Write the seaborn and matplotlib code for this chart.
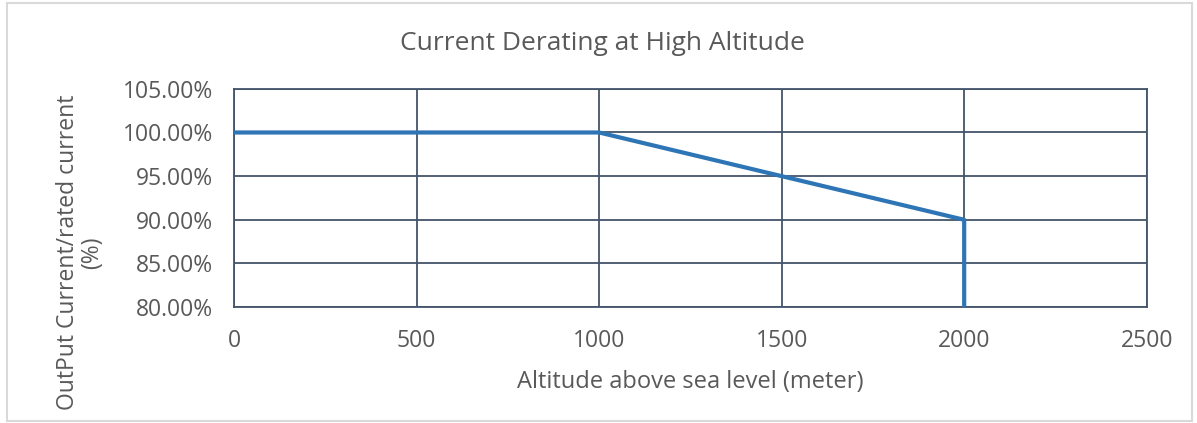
import matplotlib
matplotlib.use("Agg")
import matplotlib.pyplot as plt
import seaborn as sns
import pandas as pd
from matplotlib.ticker import FuncFormatter, MultipleLocator
from matplotlib.patches import Rectangle

# data
altitude = [0, 1000, 2000, 2000]
current_ratio = [1.00, 1.00, 0.90, 0.80]

df = pd.DataFrame({"Altitude": altitude, "Ratio": current_ratio})

sns.set_theme(style="white")
plt.rcParams['font.family'] = ['Open Sans', 'DejaVu Sans']

text_color = '#595959'
grid_color = '#44546A'

fig = plt.figure(figsize=(11.97, 4.23), dpi=100)
ax = fig.add_axes([0.1955, 0.274, 0.7625, 0.516])

sns.lineplot(data=df, x="Altitude", y="Ratio", sort=False, estimator=None,
             color='#2E75B6', linewidth=3, ax=ax, zorder=3)

ax.set_xlim(0, 2500)
ax.set_ylim(0.80, 1.05)
ax.xaxis.set_major_locator(MultipleLocator(500))
ax.yaxis.set_major_locator(MultipleLocator(0.05))
ax.yaxis.set_major_formatter(FuncFormatter(lambda v, p: f"{v*100:.2f}%"))

ax.grid(True, color=grid_color, linewidth=1.3)
for s in ax.spines.values():
    s.set_color(grid_color)
    s.set_linewidth(1.3)

ax.tick_params(axis='both', colors=text_color, labelsize=16.5, length=0)
ax.tick_params(axis='x', pad=16)
ax.tick_params(axis='y', pad=15)

# title is centred on the whole chart, not the plot area
fig.text(0.503, 0.896, "Current Derating at High Altitude", color=text_color,
         fontsize=19, ha='center', va='center')
ax.set_xlabel("Altitude above sea level (meter)", color=text_color, fontsize=17, labelpad=12)
ax.set_ylabel("OutPut Current/rated current\n(%)", color=text_color, fontsize=16.5,
              linespacing=1.0, va='center', ha='center')
ax.yaxis.set_label_coords(-0.169, 0.25)

fig.patches.append(Rectangle((0.006, 0.004), 0.99, 0.99, transform=fig.transFigure,
                             fill=False, edgecolor='#D9D9D9', linewidth=1.5))

fig.savefig("out.png", dpi=100)
